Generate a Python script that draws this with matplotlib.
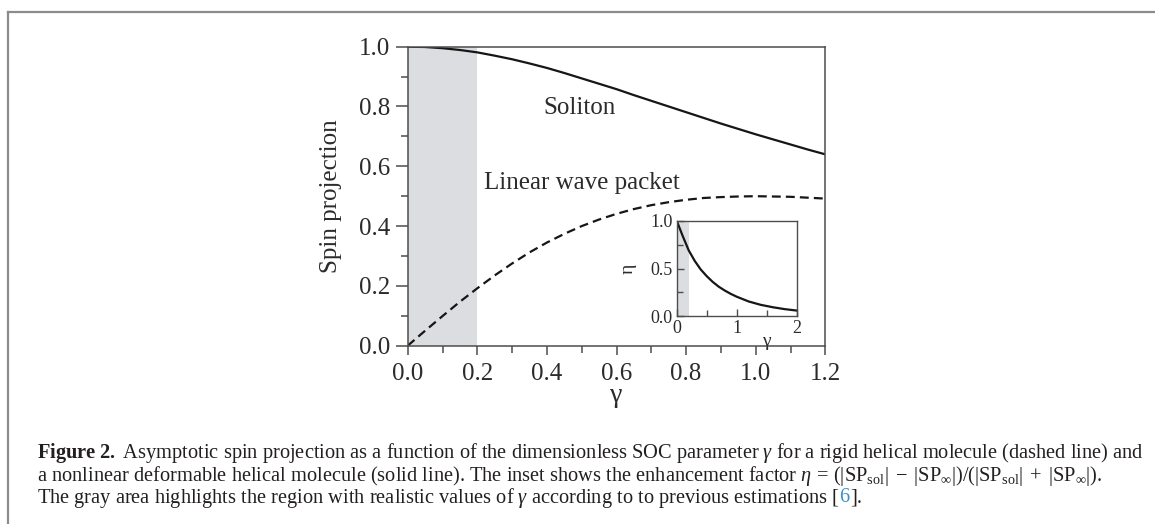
import numpy as np
import matplotlib
matplotlib.use("Agg")
import matplotlib.pyplot as plt
from matplotlib.lines import Line2D
from matplotlib.ticker import MultipleLocator, FixedLocator

# values
gamma = [0.0, 0.05, 0.1, 0.15, 0.2, 0.25, 0.3, 0.35, 0.4, 0.45, 0.5, 0.55, 0.6,
         0.65, 0.7, 0.75, 0.8, 0.85, 0.9, 0.95, 1.0, 1.05, 1.1, 1.15, 1.2]
soliton = [1.000, 0.999, 0.995, 0.989, 0.981, 0.970, 0.958, 0.944, 0.929, 0.912,
           0.894, 0.876, 0.858, 0.838, 0.819, 0.800, 0.781, 0.762, 0.743, 0.725,
           0.707, 0.690, 0.673, 0.656, 0.640]
linear = [0.000, 0.050, 0.099, 0.147, 0.192, 0.235, 0.275, 0.312, 0.345, 0.374,
          0.400, 0.422, 0.441, 0.457, 0.470, 0.480, 0.488, 0.494, 0.497, 0.499,
          0.500, 0.499, 0.498, 0.495, 0.492]
inset_gamma = [0.0, 0.1, 0.2, 0.3, 0.4, 0.5, 0.6, 0.7, 0.8, 0.9, 1.0, 1.2, 1.4, 1.6, 1.8, 2.0]
inset_eta = [1.0, 0.84, 0.69, 0.58, 0.49, 0.42, 0.36, 0.31, 0.27, 0.235, 0.205, 0.155,
             0.12, 0.095, 0.075, 0.06]
shaded = [0.0, 0.2]

plt.rcParams["font.family"] = ["Liberation Serif", "DejaVu Serif"]
plt.rcParams["mathtext.fontset"] = "custom"
plt.rcParams["mathtext.rm"] = "Liberation Serif"
plt.rcParams["mathtext.it"] = "Liberation Serif:italic"
plt.rcParams["mathtext.bf"] = "Liberation Serif:bold"

txt = "#2b2b2b"
spine = "#4d4d4d"
linecol = "#161616"
gray = "#dcdde0"

fig = plt.figure(figsize=(11.55, 5.24), dpi=100)
W, H = 1155.0, 524.0

# page frame
fig.add_artist(Line2D([8 / W, 1.02], [1 - 12 / H, 1 - 12 / H], transform=fig.transFigure,
                      color="#8c8c8c", lw=1.6, clip_on=False))
fig.add_artist(Line2D([8 / W, 8 / W], [-0.02, 1 - 12 / H], transform=fig.transFigure,
                      color="#8c8c8c", lw=1.6, clip_on=False))

# main plot
ax = fig.add_axes([407.7 / W, (H - 345.7) / H, 417.6 / W, 299.0 / H])
ax.axvspan(shaded[0], shaded[1], color=gray, lw=0, zorder=0)
ax.plot(gamma, soliton, color=linecol, lw=1.6)
ax.plot(gamma, linear, color=linecol, lw=1.6, ls="--", dashes=(4, 2.3))
ax.set_xlim(0, 1.2)
ax.set_ylim(0, 1.0)
ax.xaxis.set_major_locator(MultipleLocator(0.2))
ax.xaxis.set_minor_locator(MultipleLocator(0.1))
ax.yaxis.set_major_locator(MultipleLocator(0.2))
ax.yaxis.set_minor_locator(MultipleLocator(0.1))
ax.xaxis.set_major_formatter(plt.FormatStrFormatter("%.1f"))
ax.yaxis.set_major_formatter(plt.FormatStrFormatter("%.1f"))
ax.tick_params(axis="x", which="major", direction="out", length=6.5, width=1.1,
               color=spine, labelsize=18, labelcolor=txt, pad=6)
ax.tick_params(axis="x", which="minor", direction="out", length=5, width=1.1, color=spine)
ax.tick_params(axis="y", which="major", direction="out", length=8.5, width=1.1,
               color=spine, labelsize=18, labelcolor=txt, pad=4)
ax.tick_params(axis="y", which="minor", direction="out", length=5, width=1.1, color=spine)
for s in ax.spines.values():
    s.set_color(spine)
    s.set_linewidth(1.1)
ax.set_ylabel("Spin projection", fontsize=18, color=txt)
ax.yaxis.set_label_coords(-0.158, 0.5)
ax.set_xlabel("γ", fontsize=20, color=txt)
ax.xaxis.set_label_coords(0.5, -0.125)

ax.text(0.389, 0.795, "Soliton", fontsize=18, color=txt, va="center")
ax.text(0.219, 0.545, "Linear wave packet", fontsize=18, color=txt, va="center")

# inset
ins = fig.add_axes([676.7 / W, (H - 316.3) / H, 120.0 / W, 95.6 / H])
ins.axvspan(shaded[0], shaded[1], color=gray, lw=0, zorder=0)
ins.plot(inset_gamma, inset_eta, color=linecol, lw=1.6)
ins.set_xlim(0, 2)
ins.set_ylim(0, 1)
ins.xaxis.set_major_locator(FixedLocator([0, 1, 2]))
ins.xaxis.set_minor_locator(FixedLocator([0.5, 1.5]))
ins.yaxis.set_major_locator(FixedLocator([0, 0.5, 1.0]))
ins.yaxis.set_minor_locator(FixedLocator([0.25, 0.75]))
ins.set_xticklabels(["0", "1", "2"])
ins.set_yticklabels(["0.0", "0.5", "1.0"])
ins.tick_params(which="both", direction="in", width=1.0, color=spine, labelsize=13,
                labelcolor=txt)
ins.tick_params(which="major", length=5)
ins.tick_params(which="minor", length=4)
ins.tick_params(axis="x", pad=3)
ins.tick_params(axis="y", pad=3)
for s in ins.spines.values():
    s.set_color(spine)
    s.set_linewidth(1.0)
ins.set_xlabel("γ", fontsize=14, color=txt)
ins.xaxis.set_label_coords(0.75, -0.17)
ins.set_ylabel("η", fontsize=14, color=txt)
ins.yaxis.set_label_coords(-0.33, 0.5)

# caption
cap_color = "#231f20"
x0 = 37 / W
fig.canvas.draw()
r = fig.canvas.get_renderer()

line1 = (r"$\mathbf{Figure\ 2.}$ Asymptotic spin projection as a function of the dimensionless "
         r"SOC parameter $\gamma$ for a rigid helical molecule (dashed line) and")
line2 = (r"a nonlinear deformable helical molecule (solid line). The inset shows the enhancement "
         r"factor $\eta\,=\,(|\mathrm{SP}_{\mathrm{sol}}|\;-\;|\mathrm{SP}_{\infty}|)/"
         r"(|\mathrm{SP}_{\mathrm{sol}}|\;+\;|\mathrm{SP}_{\infty}|)$.")
line3 = r"The gray area highlights the region with realistic values of $\gamma$ according to to previous estimations ["

fs = 14
t1 = fig.text(x0, (H - 458) / H, line1, fontsize=fs, color=cap_color, va="baseline")
w = t1.get_window_extent(r).width
fs = fs * 1111.0 / w
t1.set_fontsize(fs)
t2 = fig.text(x0, (H - 480.5) / H, line2, fontsize=fs, color=cap_color, va="baseline")
t3 = fig.text(x0, (H - 502.5) / H, line3, fontsize=fs, color=cap_color, va="baseline")
fig.canvas.draw()
x3 = x0 + t3.get_window_extent(r).width / W
t4 = fig.text(x3, (H - 502.5) / H, "6", fontsize=fs, color="#3a8fc8", va="baseline")
x4 = x3 + t4.get_window_extent(r).width / W
fig.text(x4, (H - 502.5) / H, "].", fontsize=fs, color=cap_color, va="baseline")

fig.savefig("out.png", dpi=100)
